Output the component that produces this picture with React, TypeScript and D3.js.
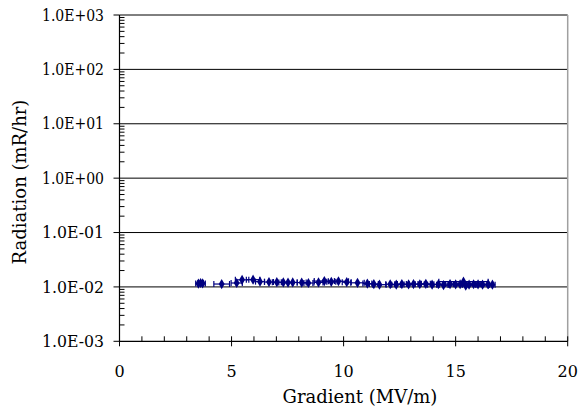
import * as d3 from 'd3';
import React from 'react';

// readings: gradient (MV/m), radiation (mR/hr), half-width of error bars
const gradient = [3.52, 3.62, 3.71, 4.56, 5.23, 5.47, 5.96, 6.27, 6.67, 7.02, 7.31, 7.52, 7.73, 8.13, 8.43, 8.88, 9.14, 9.45, 9.77, 10.14, 10.62, 11.06, 11.35, 11.6, 12.08, 12.35, 12.6, 12.9, 13.12, 13.4, 13.67, 13.95, 14.23, 14.46, 14.75, 15.0, 15.2, 15.35, 15.45, 15.6, 15.8, 16.0, 16.2, 16.45, 16.64];
const radiation = [0.0115, 0.0118, 0.0116, 0.0113, 0.0118, 0.0135, 0.0136, 0.0125, 0.0123, 0.0122, 0.0121, 0.0120, 0.0121, 0.0120, 0.0118, 0.0121, 0.0128, 0.0124, 0.0127, 0.0122, 0.0119, 0.0115, 0.0113, 0.0110, 0.0112, 0.0110, 0.0113, 0.0111, 0.0113, 0.0112, 0.0114, 0.0110, 0.0112, 0.0108, 0.0113, 0.0111, 0.0112, 0.0125, 0.0105, 0.0110, 0.0112, 0.0111, 0.0110, 0.0112, 0.0110];
const gradErr = [0.12, 0.12, 0.12, 0.35, 0.25, 0.3, 0.3, 0.2, 0.2, 0.2, 0.2, 0.2, 0.2, 0.2, 0.2, 0.2, 0.45, 0.2, 0.45, 0.2, 0.3, 0.2, 0.2, 0.3, 0.2, 0.2, 0.2, 0.2, 0.2, 0.2, 0.2, 0.2, 0.2, 0.2, 0.2, 0.3, 0.3, 1.1, 1.0, 0.3, 0.3, 0.4, 0.3, 0.2, 0.12];
const radErr = [0.0006, 0.0006, 0.0006, 0.0006, 0.0007, 0.0008, 0.0008, 0.0007, 0.0007, 0.0007, 0.0007, 0.0007, 0.0007, 0.0007, 0.0007, 0.0008, 0.0009, 0.0008, 0.0008, 0.0008, 0.0007, 0.0007, 0.0007, 0.0008, 0.0007, 0.0007, 0.0008, 0.0007, 0.0007, 0.0007, 0.0008, 0.0007, 0.0008, 0.0012, 0.0008, 0.0008, 0.0009, 0.0018, 0.0012, 0.0009, 0.0008, 0.0008, 0.0008, 0.0009, 0.0008];

const xTicks = [0, 5, 10, 15, 20];
const yTicks = [1e-3, 1e-2, 1e-1, 1e0, 1e1, 1e2, 1e3];
const yTickLabels = ['1.0E-03', '1.0E-02', '1.0E-01', '1.0E+00', '1.0E+01', '1.0E+02', '1.0E+03'];

const W = 581, H = 417;
const left = 119.5, right = 567.7, top = 15, bottom = 341.3;
const navy = '#000080';
const serif = "'DejaVu Serif', serif";

export default function App() {
  const x = d3.scaleLinear().domain([0, 20]).range([left, right]);
  const y = d3.scaleLog().domain([1e-3, 1e3]).range([bottom, top]);

  const xMinor = d3.range(0, 21).filter(v => v % 5 !== 0);
  const yMinor: number[] = [];
  for (let e = -3; e < 3; e++) for (let m = 2; m <= 9; m++) yMinor.push(m * Math.pow(10, e));

  const pts = gradient.map((g, i) => ({ g, r: radiation[i], ge: gradErr[i], re: radErr[i] }));
  const diamond = d3.symbol(d3.symbolDiamond, 30)();

  return (
    <svg width={W} height={H} style={{ position: 'absolute', left: 0, top: 0, background: '#fff' }}>
      {/* gridlines */}
      {yTicks.slice(1).map(t => (
        <line key={t} x1={left} x2={right} y1={y(t)} y2={y(t)} stroke="#000" strokeWidth={1} />
      ))}
      <line x1={right} x2={right} y1={top} y2={bottom} stroke="#a0a0a0" strokeWidth={1.5} />

      {/* y axis */}
      <line x1={left} x2={left} y1={top} y2={bottom} stroke="#000" strokeWidth={1.2} />
      {yTicks.map(t => (
        <line key={t} x1={left - 6} x2={left} y1={y(t)} y2={y(t)} stroke="#000" />
      ))}
      {yMinor.map(t => (
        <line key={t} x1={left} x2={left + 5} y1={y(t)} y2={y(t)} stroke="#000" />
      ))}
      {yTicks.map((t, i) => (
        <text key={t} fontFamily={serif} x={104} y={y(t)} dy="0.35em" textAnchor="end" fontSize={16} textLength={62} lengthAdjust="spacingAndGlyphs">{yTickLabels[i]}</text>
      ))}

      {/* x axis */}
      <line x1={left} x2={right} y1={bottom} y2={bottom} stroke="#000" strokeWidth={1.2} />
      {xTicks.map(t => (
        <line key={t} x1={x(t)} x2={x(t)} y1={bottom - 5} y2={bottom + 5} stroke="#000" />
      ))}
      {xMinor.map(t => (
        <line key={t} x1={x(t)} x2={x(t)} y1={bottom - 5} y2={bottom} stroke="#000" />
      ))}
      {xTicks.map(t => (
        <text key={t} fontFamily={serif} x={x(t)} y={377} textAnchor="middle" fontSize={16}>{t}</text>
      ))}

      <text fontFamily={serif} x={360} y={403} textAnchor="middle" fontSize={18}>Gradient (MV/m)</text>
      <text fontFamily={serif} transform={`translate(26,182) rotate(-90)`} textAnchor="middle" fontSize={18}>Radiation (mR/hr)</text>

      {/* error bars */}
      <g stroke={navy} strokeWidth={1.2} fill="none">
        {pts.map((p, i) => (
          <g key={i}>
            <line x1={x(p.g - p.ge)} x2={x(p.g + p.ge)} y1={y(p.r)} y2={y(p.r)} />
            <line x1={x(p.g - p.ge)} x2={x(p.g - p.ge)} y1={y(p.r) - 3} y2={y(p.r) + 3} />
            <line x1={x(p.g + p.ge)} x2={x(p.g + p.ge)} y1={y(p.r) - 3} y2={y(p.r) + 3} />
            <line x1={x(p.g)} x2={x(p.g)} y1={y(p.r - p.re)} y2={y(p.r + p.re)} strokeOpacity={0.7} />
          </g>
        ))}
      </g>
      {/* markers */}
      <g fill={navy}>
        {pts.map((p, i) => (
          <path key={i} d={diamond ?? ''} transform={`translate(${x(p.g)},${y(p.r)})`} />
        ))}
      </g>
    </svg>
  );
}
